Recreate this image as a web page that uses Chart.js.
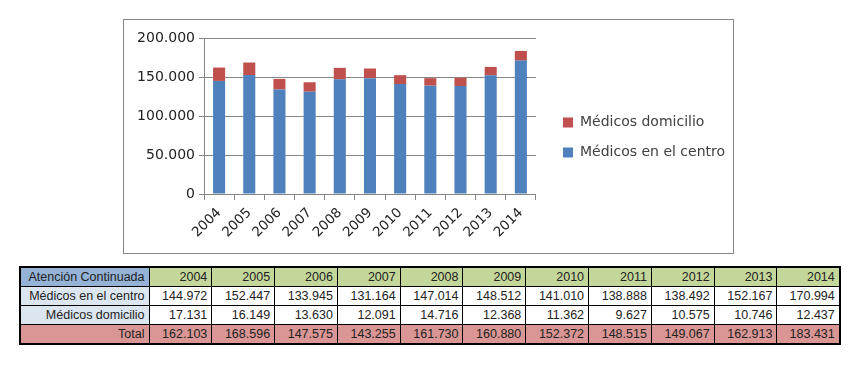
<!DOCTYPE html>
<html>
<head>
<meta charset="utf-8">
<script src="https://cdn.jsdelivr.net/npm/chart.js@4"></script>
<style>
  html, body { margin: 0; padding: 0; background: #fff; }
  body { width: 853px; height: 382px; position: relative; overflow: hidden; }
  #box { position: absolute; left: 123px; top: 19px; width: 609px; height: 233px; border: 1px solid #868686; }
  #box canvas { position: absolute; left: 0; top: 0; }
  table { position: absolute; left: 19px; top: 266px; border-collapse: collapse; table-layout: fixed;
          font-family: "Liberation Sans", Arial, sans-serif; font-size: 12.5px; color: #222; border: 2px solid #000; }
  td { border: 1px solid #000; height: 18px; padding: 0 4px; text-align: right; white-space: nowrap; overflow: hidden; line-height: 18px; }
  td.hd { background: #95B3D7; }
  td.yr { background: #C4D79B; }
  td.lb { background: #DCE6F1; }
  tr.tot td { background: #DA9694; }
</style>
</head>
<body>
<div id="box"><canvas id="c" width="660" height="233"></canvas></div>
<table id="t"></table>
<script>
const categories = ["2004","2005","2006","2007","2008","2009","2010","2011","2012","2013","2014"];
const enCentro   = [144972,152447,133945,131164,147014,148512,141010,138888,138492,152167,170994];
const domicilio  = [17131,16149,13630,12091,14716,12368,11362,9627,10575,10746,12437];
const totales    = [162103,168596,147575,143255,161730,160880,152372,148515,149067,162913,183431];
const yTicks     = [0,50000,100000,150000,200000];
const seriesNames = ["Médicos en el centro","Médicos domicilio"];
const tableHeader = "Atención Continuada";
const totalLabel = "Total";

function fmt(v){ return String(v).replace(/\B(?=(\d{3})+(?!\d))/g, "."); }

// table
const t = document.getElementById("t");
let html = '<colgroup><col style="width:129px">' + categories.map(()=>'<col style="width:62.8px">').join('') + '</colgroup>';
html += '<tr><td class="hd">' + tableHeader + '</td>' + categories.map(c=>'<td class="yr">'+c+'</td>').join('') + '</tr>';
html += '<tr><td class="lb">' + seriesNames[0] + '</td>' + enCentro.map(v=>'<td>'+fmt(v)+'</td>').join('') + '</tr>';
html += '<tr><td class="lb">' + seriesNames[1] + '</td>' + domicilio.map(v=>'<td>'+fmt(v)+'</td>').join('') + '</tr>';
html += '<tr class="tot"><td>' + totalLabel + '</td>' + totales.map(v=>'<td>'+fmt(v)+'</td>').join('') + '</tr>';
t.innerHTML = html;

const grid = "#868686";
const LEGEND_BOX_X = 439; // desired legend box x inside canvas
const LEGEND_DY = -8;
const shiftPlugin = {
  id: "shift",
  afterLayout(chart) {
    const lg = chart.legend;
    if (!lg) return;
    const d = (LEGEND_BOX_X - 16) - lg.left;
    lg.left += d; lg.right += d;
    lg.top += LEGEND_DY; lg.bottom += LEGEND_DY;
  }
};
new Chart(document.getElementById("c"), {
  type: "bar",
  data: {
    labels: categories,
    datasets: [
      { label: seriesNames[0], data: enCentro, backgroundColor: "#4F81BD" },
      { label: seriesNames[1], data: domicilio, backgroundColor: "#C0504D" }
    ]
  },
  plugins: [shiftPlugin],
  options: {
    responsive: false,
    animation: false,
    devicePixelRatio: 1,
    layout: { padding: { top: 18, left: 0, right: 60, bottom: 0 } },
    datasets: { bar: { barPercentage: 0.4, categoryPercentage: 1.0 } },
    plugins: {
      tooltip: { enabled: false },
      legend: {
        position: "right",
        reverse: true,
        maxWidth: 240,
        labels: {
          boxWidth: 10, boxHeight: 10, padding: 16,
          color: "#404040",
          font: { family: "DejaVu Sans", size: 14 }
        }
      }
    },
    scales: {
      x: {
        stacked: true,
        afterFit: s => { s.height = 59; },
        grid: { offset: true, drawOnChartArea: false, color: grid, tickLength: 6 },
        border: { color: grid },
        ticks: { minRotation: 45, maxRotation: 45, color: "#222", padding: 5,
                 font: { family: "DejaVu Sans", size: 13.5 } }
      },
      y: {
        stacked: true,
        min: 0, max: 200000,
        afterFit: s => { s.width = 80; },
        afterBuildTicks: s => { s.ticks = yTicks.map(v => ({ value: v })); },
        grid: { color: grid, tickLength: 5 },
        border: { color: grid },
        ticks: { color: "#222", padding: 4, callback: v => fmt(v),
                 font: { family: "DejaVu Sans", size: 14 } }
      }
    }
  }
});
</script>
</body>
</html>
